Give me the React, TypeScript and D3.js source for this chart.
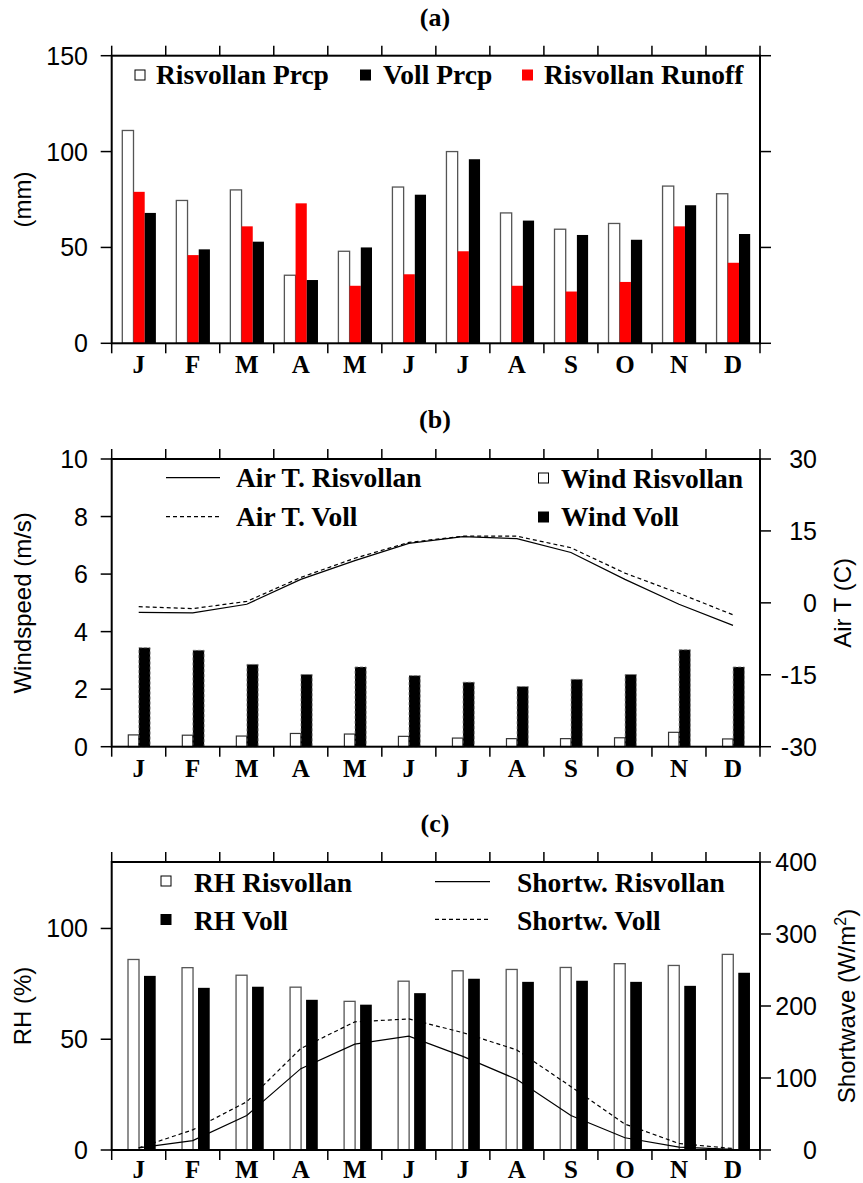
import React from 'react';
import * as d3 from 'd3';

// ---------- data ----------
const MONTHS = ["J", "F", "M", "A", "M", "J", "J", "A", "S", "O", "N", "D"];

// (a) precipitation & runoff (mm)
const risPrcp = [111, 74.5, 80, 35.5, 48, 81.5, 100, 68, 59.5, 62.5, 82, 78];
const vollPrcp = [68, 49, 53, 33, 50, 77.5, 96, 64, 56.5, 54, 72, 57];
const risRunoff = [79, 46, 61, 73, 30, 36, 48, 30, 27, 32, 61, 42];

// (b) wind (m/s) and air temperature (C)
const windRis = [0.41, 0.4, 0.37, 0.46, 0.44, 0.36, 0.3, 0.28, 0.28, 0.31, 0.5, 0.27];
const windVoll = [3.44, 3.35, 2.86, 2.51, 2.77, 2.47, 2.24, 2.09, 2.34, 2.51, 3.37, 2.77];
const airTRis = [-2.0, -2.1, -0.3, 4.9, 8.8, 12.4, 13.8, 13.4, 10.5, 4.9, -0.3, -4.7];
const airTVoll = [-0.8, -1.2, 0.3, 5.3, 9.3, 12.6, 13.9, 13.9, 11.5, 6.2, 2.0, -2.5];

// (c) relative humidity (%) and shortwave (W/m2)
const rhRis = [86, 82.3, 78.9, 73.5, 67.1, 76.2, 80.9, 81.5, 82.4, 84.1, 83.3, 88.3];
const rhVoll = [78.6, 73.2, 73.7, 67.8, 65.6, 70.8, 77.3, 75.9, 76.4, 75.9, 74.1, 80.0];
const swRis = [3, 13, 48, 113, 147, 158, 130, 98, 48, 17, 4, 1];
const swVoll = [3, 28, 67, 141, 178, 182, 163, 139, 88, 36, 9, 2];

// tick values
const ticksA = [0, 50, 100, 150];
const ticksBL = [0, 2, 4, 6, 8, 10];
const ticksBR = [-30, -15, 0, 15, 30];
const ticksCL = [0, 50, 100];
const ticksCR = [0, 100, 200, 300, 400];

// ---------- layout ----------
const W = 863, H = 1183;
const X0 = 111.7, X1 = 760;
const SERIF = '"Liberation Serif","Times New Roman",Times,serif';
const SANS = '"Liberation Sans",Arial,Helvetica,sans-serif';
const LEG_FS = 27.5;

const idx = d3.range(12);
const x = d3.scaleBand<number>().domain(idx).range([X0, X1]).paddingInner(0).paddingOuter(0);
const bw = x.bandwidth();
const cx = (i: number) => (x(i) as number) + bw / 2;
const boundaries = d3.range(13).map((i) => X0 + i * bw);

function XAxis({ top, bottom, labelDy = 30 }: { top: number; bottom: number; labelDy?: number }) {
  return (
    <g>
      {boundaries.map((bx, i) => (
        <g key={i}>
          <line x1={bx} x2={bx} y1={bottom} y2={bottom + 10} stroke="#000" strokeWidth={1.5} />
          <line x1={bx} x2={bx} y1={top - 10} y2={top} stroke="#000" strokeWidth={1.5} />
        </g>
      ))}
      {MONTHS.map((m, i) => (
        <text key={i} x={cx(i)} y={bottom + labelDy} textAnchor="middle" fontFamily={SERIF}
          fontWeight="bold" fontSize={25}>{m}</text>
      ))}
    </g>
  );
}

function YAxis({ scale, ticks, side, labels }: { scale: any; ticks: number[]; side: 'left' | 'right'; labels: boolean }) {
  return (
    <g>
      {ticks.map((t) => {
        const y = scale(t);
        return (
          <g key={t}>
            {side === 'left'
              ? <line x1={X0 - 11} x2={X0} y1={y} y2={y} stroke="#000" strokeWidth={1.5} />
              : <line x1={X1} x2={X1 + 11} y1={y} y2={y} stroke="#000" strokeWidth={1.5} />}
            {labels && (
              <text x={side === 'left' ? 88 : 817} y={y} dy="0.36em" textAnchor="end"
                fontFamily={SANS} fontSize={25}>{t}</text>
            )}
          </g>
        );
      })}
    </g>
  );
}

function Frame({ top, bottom }: { top: number; bottom: number }) {
  return <rect x={X0} y={top} width={X1 - X0} height={bottom - top} fill="none" stroke="#000" strokeWidth={2} />;
}

function Title({ y, text }: { y: number; text: string }) {
  return <text x={435} y={y} textAnchor="middle" fontFamily={SERIF} fontWeight="bold" fontSize={26}>{text}</text>;
}

function YTitle({ x: tx, y, children }: { x: number; y: number; children: any }) {
  return (
    <text transform={`translate(${tx},${y}) rotate(-90)`} textAnchor="middle" fontFamily={SANS} fontSize={24}>
      {children}
    </text>
  );
}

function LegendBox({ x0, y0, fill, label, tx, ty }: any) {
  return (
    <g>
      <rect x={x0} y={y0} width={10} height={10} fill={fill} stroke={fill === '#fff' ? '#000' : fill} strokeWidth={1} />
      <text x={tx} y={ty} fontFamily={SERIF} fontWeight="bold" fontSize={LEG_FS}>{label}</text>
    </g>
  );
}

function LegendLine({ x0, x1, y, dash, label, tx, ty }: any) {
  return (
    <g>
      <line x1={x0} x2={x1} y1={y} y2={y} stroke="#000" strokeWidth={1.2} strokeDasharray={dash} />
      <text x={tx} y={ty} fontFamily={SERIF} fontWeight="bold" fontSize={LEG_FS}>{label}</text>
    </g>
  );
}

export default function App() {
  // panel (a)
  const aTop = 55.7, aBot = 343.3;
  const yA = d3.scaleLinear().domain([0, 150]).range([aBot, aTop]);
  const barW_A = 11.2;

  // panel (b)
  const bTop = 459, bBot = 746.7;
  const yB = d3.scaleLinear().domain([0, 10]).range([bBot, bTop]);
  const yBr = d3.scaleLinear().domain([-30, 30]).range([bBot, bTop]);
  const lineB = d3.line<number>().x((_, i) => cx(i)).y((d) => yBr(d));

  // panel (c)
  const cTop = 862, cBot = 1150;
  const yC = d3.scaleLinear().domain([0, 130]).range([cBot, cTop]);
  const yCr = d3.scaleLinear().domain([0, 400]).range([cBot, cTop]);
  const lineC = d3.line<number>().x((_, i) => cx(i)).y((d) => yCr(d));

  return (
    <svg width={W} height={H} viewBox={`0 0 ${W} ${H}`}
      style={{ position: 'absolute', left: 0, top: 0, background: '#fff' }}>
      <rect x={0} y={0} width={W} height={H} fill="#fff" />

      {/* ---------------- (a) ---------------- */}
      <Title y={26} text="(a)" />
      <g>
        {idx.map((i) => (
          <g key={i}>
            <rect x={(x(i) as number) + 10.6} y={yA(risPrcp[i])} width={barW_A}
              height={aBot - yA(risPrcp[i])} fill="#fff" stroke="#555" strokeWidth={1.3} />
            <rect x={(x(i) as number) + 21.8} y={yA(risRunoff[i])} width={barW_A}
              height={aBot - yA(risRunoff[i])} fill="#ff0000" />
            <rect x={(x(i) as number) + 33.0} y={yA(vollPrcp[i])} width={barW_A}
              height={aBot - yA(vollPrcp[i])} fill="#000" />
          </g>
        ))}
      </g>
      <Frame top={aTop} bottom={aBot} />
      <XAxis top={aTop} bottom={aBot} />
      <YAxis scale={yA} ticks={ticksA} side="left" labels={true} />
      <YAxis scale={yA} ticks={ticksA} side="right" labels={false} />
      <YTitle x={31} y={(aTop + aBot) / 2}>(mm)</YTitle>
      <LegendBox x0={135} y0={70} fill="#fff" label="Risvollan Prcp" tx={156} ty={84} />
      <LegendBox x0={360.5} y0={70} fill="#000" label="Voll Prcp" tx={383} ty={84} />
      <LegendBox x0={522.5} y0={70} fill="#ff0000" label="Risvollan Runoff" tx={544} ty={84} />

      {/* ---------------- (b) ---------------- */}
      <Title y={428} text="(b)" />
      <g>
        {idx.map((i) => (
          <g key={i}>
            <rect x={(x(i) as number) + 16.6} y={yB(windRis[i])} width={10.4}
              height={bBot - yB(windRis[i])} fill="#fff" stroke="#333" strokeWidth={1.2} />
            <rect x={(x(i) as number) + 27.2} y={yB(windVoll[i])} width={11.2}
              height={bBot - yB(windVoll[i])} fill="#000" stroke="#777" strokeWidth={0.8}
              strokeDasharray="3,2" />
          </g>
        ))}
      </g>
      <path d={lineB(airTRis) as string} fill="none" stroke="#000" strokeWidth={1.2} />
      <path d={lineB(airTVoll) as string} fill="none" stroke="#000" strokeWidth={1.2} strokeDasharray="4,3" />
      <Frame top={bTop} bottom={bBot} />
      <XAxis top={bTop} bottom={bBot} />
      <YAxis scale={yB} ticks={ticksBL} side="left" labels={true} />
      <YAxis scale={yBr} ticks={ticksBR} side="right" labels={true} />
      <YTitle x={31} y={(bTop + bBot) / 2}>Windspeed (m/s)</YTitle>
      <YTitle x={851} y={(bTop + bBot) / 2}>Air T (C)</YTitle>
      <LegendLine x0={166} x1={220} y={477.7} label="Air T. Risvollan" tx={236} ty={487} />
      <LegendLine x0={166} x1={220} y={516.7} dash="4,3" label="Air T. Voll" tx={236} ty={526} />
      <LegendBox x0={538.5} y0={473} fill="#fff" label="Wind Risvollan" tx={561} ty={488} />
      <LegendBox x0={538.5} y0={512} fill="#000" label="Wind Voll" tx={561} ty={526} />

      {/* ---------------- (c) ---------------- */}
      <Title y={832} text="(c)" />
      <g>
        {idx.map((i) => (
          <g key={i}>
            <rect x={(x(i) as number) + 16.3} y={yC(rhRis[i])} width={11}
              height={cBot - yC(rhRis[i])} fill="#fff" stroke="#555" strokeWidth={1.3} />
            <rect x={(x(i) as number) + 32.3} y={yC(rhVoll[i])} width={11.7}
              height={cBot - yC(rhVoll[i])} fill="#000" />
          </g>
        ))}
      </g>
      <path d={lineC(swRis) as string} fill="none" stroke="#000" strokeWidth={1.2} />
      <path d={lineC(swVoll) as string} fill="none" stroke="#000" strokeWidth={1.2} strokeDasharray="4,3" />
      <Frame top={cTop} bottom={cBot} />
      <XAxis top={cTop} bottom={cBot} labelDy={28} />
      <YAxis scale={yC} ticks={ticksCL} side="left" labels={true} />
      <YAxis scale={yCr} ticks={ticksCR} side="right" labels={true} />
      <YTitle x={31} y={(cTop + cBot) / 2}>RH (%)</YTitle>
      <YTitle x={855} y={(cTop + cBot) / 2}>
        Shortwave (W/m<tspan dy="-9" fontSize={16}>2</tspan><tspan dy="9">)</tspan>
      </YTitle>
      <LegendBox x0={161} y0={876} fill="#fff" label="RH Risvollan" tx={194} ty={891.5} />
      <LegendBox x0={161} y0={914.5} fill="#000" label="RH Voll" tx={194} ty={929.5} />
      <LegendLine x0={435} x1={490} y={881.7} label="Shortw. Risvollan" tx={517} ty={891.5} />
      <LegendLine x0={435} x1={490} y={919.3} dash="4,3" label="Shortw. Voll" tx={517} ty={929.5} />
    </svg>
  );
}
